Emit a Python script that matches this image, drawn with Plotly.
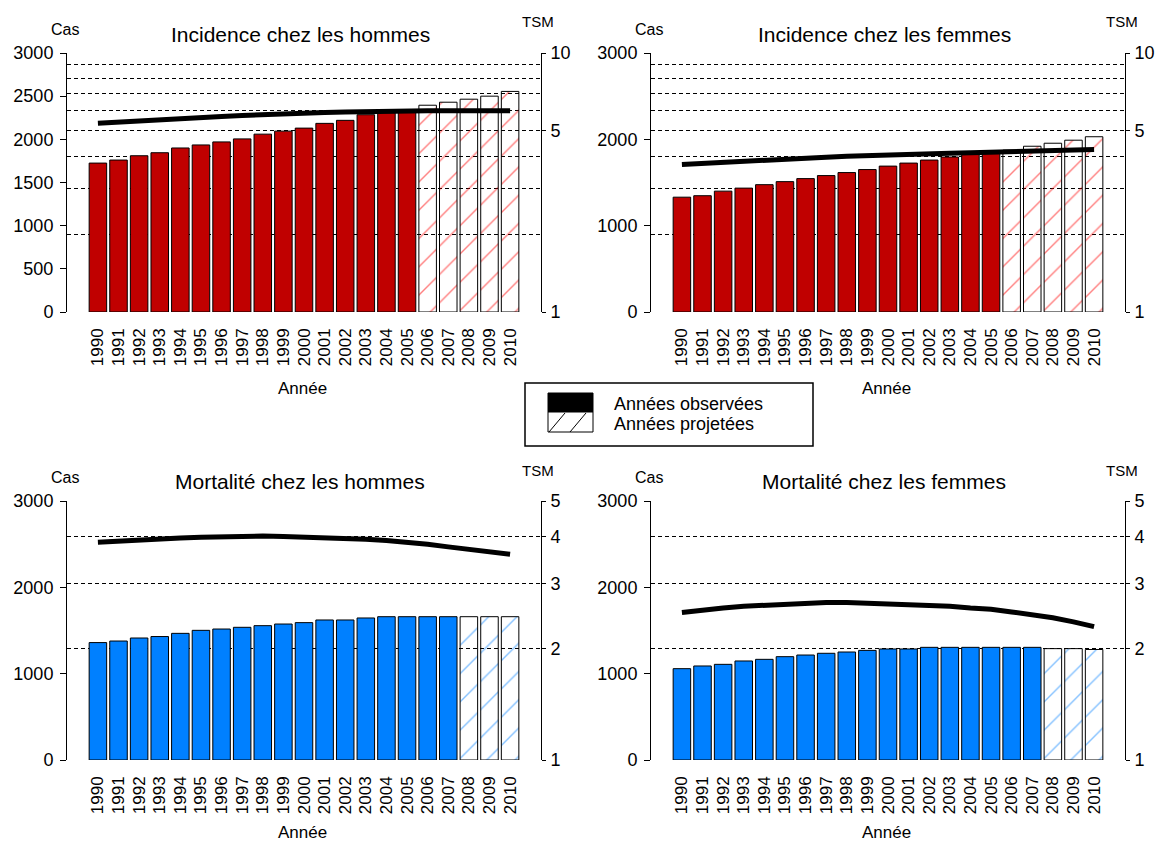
import math
import plotly.graph_objects as go

W, H = 1155, 844
FONT = "Liberation Sans, Arial, sans-serif"

# ---- data -------------------------------------------------------------
years = list(range(1990, 2011))
year_labels = [str(y) for y in years]

# Incidence, men: cases (bars) and standardised rate TSM (line)
inc_h_cas = [1725, 1760, 1810, 1845, 1900, 1935, 1970, 2005, 2060, 2095, 2130,
             2185, 2220, 2285, 2310, 2330, 2395, 2430, 2465, 2500, 2555]
inc_h_tsm = [5.36, 5.42, 5.49, 5.55, 5.60, 5.65, 5.69, 5.74, 5.79, 5.83, 5.86,
             5.89, 5.92, 5.95, 5.97, 5.98, 5.99, 5.99, 5.99, 5.99, 5.99]

# Incidence, women
inc_f_cas = [1330, 1347, 1400, 1435, 1475, 1510, 1545, 1580, 1615, 1650, 1690,
             1725, 1760, 1795, 1830, 1850, 1875, 1920, 1955, 1990, 2030]
inc_f_tsm = [3.71, 3.75, 3.79, 3.82, 3.85, 3.89, 3.93, 3.96, 3.99, 4.02, 4.04,
             4.06, 4.08, 4.10, 4.12, 4.14, 4.16, 4.18, 4.20, 4.22, 4.24]

# Mortality, men
mort_h_cas = [1360, 1378, 1413, 1430, 1467, 1502, 1517, 1537, 1556, 1575, 1591,
              1622, 1622, 1645, 1660, 1660, 1660, 1660, 1660, 1660, 1660]
mort_h_tsm = [3.87, 3.90, 3.93, 3.95, 3.97, 3.99, 4.01, 4.02, 4.02, 4.01, 4.00,
              3.98, 3.96, 3.94, 3.91, 3.87, 3.82, 3.76, 3.70, 3.65, 3.59]

# Mortality, women
mort_f_cas = [1058, 1089, 1108, 1147, 1166, 1197, 1216, 1236, 1251, 1270, 1286,
              1286, 1305, 1305, 1305, 1305, 1305, 1305, 1290, 1290, 1280]
mort_f_tsm = [2.50, 2.54, 2.57, 2.60, 2.62, 2.64, 2.65, 2.66, 2.66, 2.65, 2.65,
              2.64, 2.62, 2.60, 2.57, 2.55, 2.51, 2.47, 2.42, 2.36, 2.29]

# last observed year (later years are projections)
inc_last_obs = 2005
mort_last_obs = 2007

cas_ticks_fine = [0, 500, 1000, 1500, 2000, 2500, 3000]
cas_ticks = [0, 1000, 2000, 3000]
tsm_ticks_inc = [1, 5, 10]
tsm_grid_inc = [1, 2, 3, 4, 5, 6, 7, 8, 9, 10]
tsm_ticks_mort = [1, 2, 3, 4, 5]
tsm_grid_mort = [1, 2, 3, 4, 5]

RED, RED_HATCH = "#C00000", "#FF0000"
BLUE, BLUE_HATCH = "#0080FF", "#0A84FF"

# ---- panel definitions (pixel boxes of each plot area) ----------------
panels = [
    dict(title="Incidence chez les hommes", cas=inc_h_cas, tsm=inc_h_tsm,
         last=inc_last_obs, color=RED, hatch=RED_HATCH, yticks=cas_ticks_fine,
         tsm_ticks=tsm_ticks_inc, tsm_grid=tsm_grid_inc, box=(67, 541, 53, 312)),
    dict(title="Incidence chez les femmes", cas=inc_f_cas, tsm=inc_f_tsm,
         last=inc_last_obs, color=RED, hatch=RED_HATCH, yticks=cas_ticks,
         tsm_ticks=tsm_ticks_inc, tsm_grid=tsm_grid_inc, box=(651, 1125, 53, 312)),
    dict(title="Mortalité chez les hommes", cas=mort_h_cas, tsm=mort_h_tsm,
         last=mort_last_obs, color=BLUE, hatch=BLUE_HATCH, yticks=cas_ticks,
         tsm_ticks=tsm_ticks_mort, tsm_grid=tsm_grid_mort, box=(67, 541, 501, 760)),
    dict(title="Mortalité chez les femmes", cas=mort_f_cas, tsm=mort_f_tsm,
         last=mort_last_obs, color=BLUE, hatch=BLUE_HATCH, yticks=cas_ticks,
         tsm_ticks=tsm_ticks_mort, tsm_grid=tsm_grid_mort, box=(651, 1125, 501, 760)),
]


def px_x(v):
    return v / W


def px_y(v):
    return 1 - v / H


fig = go.Figure()
layout = dict(
    width=W, height=H, autosize=False,
    margin=dict(l=0, r=0, t=0, b=0, pad=0, autoexpand=False),
    paper_bgcolor="white", plot_bgcolor="white",
    barmode="overlay", showlegend=False,
    font=dict(family=FONT, color="black"),
)
annotations = []
shapes = []
GRID_DASH = "4px,3px"

for i, p in enumerate(panels):
    xn = "" if i == 0 else str(i + 1)
    y1n, y2n = str(2 * i + 1), str(2 * i + 2)
    y1n = "" if y1n == "1" else y1n
    xa, ya, ya2 = "x" + xn, "y" + y1n, "y" + y2n

    x0, x1, yt, yb = p["box"]
    xdom = [px_x(x0), px_x(x1)]
    ydom = [px_y(yb), px_y(yt)]

    obs_x = [y for y in years if y <= p["last"]]
    obs_v = p["cas"][:len(obs_x)]
    proj_x = [y for y in years if y > p["last"]]
    proj_v = p["cas"][len(obs_x):]

    fig.add_trace(go.Bar(
        x=obs_x, y=obs_v, xaxis=xa, yaxis=ya, width=0.85,
        marker=dict(color=p["color"], line=dict(color="black", width=1)),
        hoverinfo="x+y"))
    fig.add_trace(go.Bar(
        x=proj_x, y=proj_v, xaxis=xa, yaxis=ya, width=0.85,
        marker=dict(color="rgba(0,0,0,0)", line=dict(color="black", width=1),
                    pattern=dict(shape="/", fgcolor=p["hatch"],
                                 bgcolor="rgba(0,0,0,0)", size=20,
                                 solidity=0.07, fillmode="overlay")),
        hoverinfo="x+y"))
    fig.add_trace(go.Scatter(
        x=years, y=p["tsm"], xaxis=xa, yaxis=ya2, mode="lines",
        line=dict(color="black", width=5)))

    tsm_max = max(p["tsm_grid"])
    layout["xaxis" + xn] = dict(
        domain=xdom, anchor=ya, range=[1988.5, 2011.5], automargin=False,
        tickmode="array", tickvals=years, ticktext=year_labels,
        tickangle=-90, ticks="", showline=False, showgrid=False,
        zeroline=False, tickfont=dict(size=17), ticklabelstandoff=12,
        fixedrange=True)
    layout["yaxis" + y1n] = dict(
        domain=ydom, anchor=xa, range=[0, 3000], automargin=False,
        tickmode="array", tickvals=p["yticks"],
        ticks="outside", ticklen=6, tickcolor="black", tickwidth=1,
        showline=True, linecolor="black", linewidth=1,
        showgrid=False, zeroline=False, tickfont=dict(size=18),
        ticklabelstandoff=3, fixedrange=True)
    layout["yaxis" + y2n] = dict(
        overlaying=ya, anchor=xa, side="right", type="log", automargin=False,
        range=[0, math.log10(tsm_max)],
        tickmode="array", tickvals=p["tsm_ticks"],
        ticks="outside", ticklen=4, tickcolor="black", tickwidth=1,
        showline=True, linecolor="black", linewidth=1,
        showgrid=True, gridcolor="black", gridwidth=1, griddash=GRID_DASH,
        minor=dict(tickmode="array", tickvals=p["tsm_grid"], showgrid=True,
                   gridcolor="black", gridwidth=1, griddash=GRID_DASH, ticks=""),
        zeroline=False, tickfont=dict(size=18), ticklabelstandoff=1,
        fixedrange=True)

    cx = (x0 + x1) / 2
    annotations += [
        dict(text=p["title"], x=px_x(cx - 4), y=px_y(yt - 19), xref="paper",
             yref="paper", showarrow=False, xanchor="center", yanchor="middle",
             font=dict(size=21)),
        dict(text="Cas", x=px_x(x0 - 2), y=px_y(yt - 24), xref="paper",
             yref="paper", showarrow=False, xanchor="center", yanchor="middle",
             font=dict(size=16)),
        dict(text="TSM", x=px_x(x1 - 3), y=px_y(yt - 31), xref="paper",
             yref="paper", showarrow=False, xanchor="center", yanchor="middle",
             font=dict(size=15)),
        dict(text="Année", x=px_x(cx - 2), y=px_y(min(yb + 76, 832)),
             xref="paper", yref="paper", showarrow=False, xanchor="center",
             yanchor="middle", font=dict(size=17)),
    ]

# ---- key box: observed vs projected years ------------------------------
shapes += [
    dict(type="rect", xref="paper", yref="paper",
         x0=px_x(525), x1=px_x(813), y0=px_y(446), y1=px_y(383),
         line=dict(color="black", width=1.5), fillcolor="white"),
    dict(type="rect", xref="paper", yref="paper",
         x0=px_x(548), x1=px_x(593), y0=px_y(412), y1=px_y(393),
         line=dict(color="black", width=1), fillcolor="black"),
    dict(type="rect", xref="paper", yref="paper",
         x0=px_x(548), x1=px_x(593), y0=px_y(432), y1=px_y(412),
         line=dict(color="black", width=1), fillcolor="white"),
    dict(type="line", xref="paper", yref="paper",
         x0=px_x(549), y0=px_y(432), x1=px_x(565), y1=px_y(413),
         line=dict(color="black", width=1)),
    dict(type="line", xref="paper", yref="paper",
         x0=px_x(570), y0=px_y(432), x1=px_x(586), y1=px_y(413),
         line=dict(color="black", width=1)),
]
annotations += [
    dict(text="Années observées", x=px_x(612), y=px_y(404), xref="paper",
         yref="paper", showarrow=False, xanchor="left", yanchor="middle",
         font=dict(size=18)),
    dict(text="Années projetées", x=px_x(612), y=px_y(424), xref="paper",
         yref="paper", showarrow=False, xanchor="left", yanchor="middle",
         font=dict(size=18)),
]

layout["annotations"] = annotations
layout["shapes"] = shapes
fig.update_layout(**layout)
fig.write_html("out.html", include_plotlyjs=True, config={"displayModeBar": False})
